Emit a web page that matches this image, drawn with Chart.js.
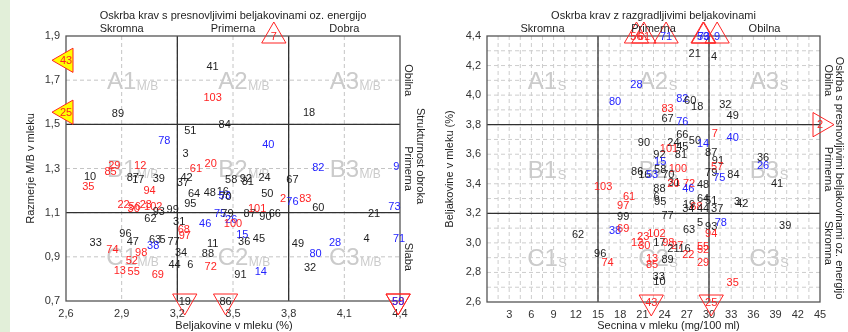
<!DOCTYPE html>
<html><head><meta charset="utf-8">
<script src="https://cdn.jsdelivr.net/npm/chart.js@4/dist/chart.umd.min.js"></script>
<style>
html,body{margin:0;padding:0;background:#fff;width:848px;height:332px;overflow:hidden}
#strip{position:absolute;left:0;top:0;width:10px;height:332px;background:#e2efd9}
#c1{position:absolute;left:0;top:0}
#c2{position:absolute;left:430px;top:0}
</style></head><body>
<div id="strip"></div>
<canvas id="c1" width="430" height="332"></canvas>
<canvas id="c2" width="418" height="332"></canvas>
<script>
// ---------- LEFT CHART DATA ----------
const leftIds = [41,103,89,18,51,84,78,40,3,29,12,85,61,20,10,35,87,17,39,42,37,58,92,81,24,67,82,9,94,64,48,16,53,70,50,95,2,76,83,60,73,22,56,30,23,102,21,93,99,62,31,46,75,79,26,100,87,90,66,101,68,97,96,33,47,63,5,77,11,15,36,45,49,28,4,71,74,98,38,34,88,80,52,13,55,69,44,6,72,91,14,32];
const leftProtein = [3.39,3.39,2.88,3.91,3.27,3.455,3.13,3.69,3.245,2.86,3.00,2.84,3.30,3.38,2.73,2.72,2.96,2.99,3.10,3.25,3.23,3.49,3.57,3.58,3.67,3.82,3.96,4.38,3.05,3.29,3.375,3.445,3.455,3.46,3.685,3.27,3.77,3.82,3.89,3.96,4.37,2.91,2.97,2.965,3.03,3.07,4.26,3.10,3.175,3.055,3.21,3.35,3.43,3.47,3.49,3.50,3.59,3.675,3.725,3.63,3.235,3.24,2.92,2.76,2.96,3.08,3.12,3.18,3.39,3.55,3.56,3.64,3.85,4.05,4.22,4.395,2.85,3.005,3.07,3.22,3.365,3.945,2.955,2.89,2.965,3.095,3.185,3.27,3.38,3.54,3.65,3.915];
const leftRatio = [1.76,1.62,1.55,1.555,1.47,1.50,1.425,1.41,1.37,1.315,1.315,1.285,1.30,1.325,1.265,1.22,1.26,1.25,1.255,1.26,1.235,1.25,1.255,1.24,1.26,1.25,1.305,1.31,1.20,1.185,1.19,1.195,1.18,1.175,1.185,1.14,1.165,1.15,1.165,1.125,1.13,1.135,1.13,1.118,1.135,1.13,1.095,1.105,1.115,1.075,1.06,1.05,1.095,1.095,1.07,1.052,1.095,1.085,1.095,1.12,1.025,0.995,1.005,0.965,0.97,0.98,0.98,0.97,0.96,1.00,0.97,0.985,0.96,0.965,0.985,0.985,0.935,0.92,0.95,0.92,0.915,0.915,0.885,0.84,0.835,0.82,0.865,0.865,0.855,0.82,0.835,0.85];
const leftColour = ['k','r','k','k','k','k','b','b','k','r','r','r','r','r','k','r','k','k','k','k','k','k','k','k','k','k','b','b','r','k','k','k','b','k','k','k','r','b','r','k','b','r','r','r','r','r','k','k','k','k','k','b','b','k','b','r','k','k','k','r','r','r','k','k','k','k','k','k','k','b','k','k','k','b','k','b','r','r','b','k','k','b','r','r','r','r','k','k','r','k','b','k'];
// points outside the axis range, shown on the border
const leftOutIds = [43,25,7,19,86,58,59];
const leftOutProtein = [2.6,2.6,3.72,3.24,3.46,4.39,4.39];
const leftOutRatio = [1.79,1.555,1.9,0.7,0.7,0.7,0.7];
const leftOutDir = ['left','left','up','down','down','down','down'];
const leftOutColour = ['r','r','r','k','k','r','b'];
const leftXTicks = [2.6,2.9,3.2,3.5,3.8,4.1,4.4];
const leftYTicks = [0.7,0.9,1.1,1.3,1.5,1.7,1.9];
const leftHeaders = ['Skromna','Primerna','Dobra'];
const leftSide = ['Obilna','Primerna','Slaba'];

// ---------- RIGHT CHART DATA ----------
const rightIds = [21,4,28,80,82,60,18,83,32,49,67,76,66,7,90,24,50,40,14,101,45,92,81,87,15,91,57,36,26,58,100,86,16,53,70,79,75,84,41,103,88,31,20,72,46,48,61,97,6,95,64,51,3,42,19,68,34,44,37,99,77,5,93,78,63,39,62,38,69,23,102,94,12,30,17,98,27,21,16,55,52,96,74,13,85,89,22,29,33,10,35];
const rightUrea = [28.07,30.7,20.2,17.3,26.4,27.45,28.4,24.4,32.2,33.2,24.4,26.4,26.4,30.8,21.2,25.2,28.1,33.2,29.2,24.6,26.4,23.3,26.2,30.3,23.4,31.2,31.1,37.3,37.3,23.4,25.8,20.3,21.25,22.3,24.5,30.3,31.4,33.3,39.2,15.7,23.3,25.3,25.2,27.3,27.2,29.2,19.2,18.4,22.9,23.4,29.2,30.3,33.8,34.5,27.3,28.3,27.2,29.2,31.1,18.4,24.4,28.8,30.3,31.6,27.3,40.3,12.3,17.3,18.4,21.1,22.9,30.3,20.3,21.25,23.3,24.5,25.7,25.2,26.7,29.2,29.2,15.3,16.3,22.3,22.3,24.4,27.2,29.2,23.2,23.3,33.2];
const rightProtein = [4.28,4.26,4.07,3.955,3.98,3.965,3.925,3.91,3.94,3.865,3.84,3.825,3.735,3.74,3.68,3.68,3.69,3.71,3.67,3.64,3.655,3.595,3.595,3.61,3.55,3.555,3.515,3.575,3.525,3.50,3.505,3.48,3.465,3.465,3.465,3.475,3.445,3.465,3.405,3.385,3.37,3.41,3.40,3.40,3.365,3.395,3.315,3.255,3.315,3.28,3.30,3.29,3.28,3.27,3.26,3.245,3.23,3.23,3.235,3.18,3.185,3.14,3.11,3.14,3.09,3.115,3.06,3.085,3.10,3.045,3.065,3.065,3.005,2.985,3.005,3.005,2.985,2.965,2.965,2.975,2.955,2.93,2.865,2.895,2.855,2.885,2.92,2.87,2.775,2.74,2.735];
const rightColour = ['k','k','b','b','b','k','k','r','k','k','k','b','k','r','k','k','k','b','b','r','k','k','k','k','b','k','r','k','b','k','r','k','k','b','k','k','b','k','k','r','k','k','r','r','b','k','r','r','k','k','k','k','k','k','k','r','k','k','k','k','k','k','k','b','k','k','k','b','r','r','r','r','r','r','k','r','r','k','k','r','r','k','r','r','r','k','r','r','k','k','r'];
const rightOutIds = [56,61,71,59,73,9,43,25,2];
const rightOutUrea = [20.2,21.2,24.2,29.2,29.3,31.1,22.2,30.3,45];
const rightOutProtein = [4.4,4.4,4.4,4.4,4.4,4.4,2.6,2.6,3.8];
const rightOutDir = ['up','up','up','up','up','up','down','down','right'];
const rightOutColour = ['r','r','b','b','b','b','r','r','r'];
const rightXTicks = [3,6,9,12,15,18,21,24,27,30,33,36,39,42,45];
const rightYTicks = [2.6,2.8,3.0,3.2,3.4,3.6,3.8,4.0,4.2,4.4];
const rightHeaders = ['Skromna','Primerna','Obilna'];
const rightSide = ['Obilna','Primerna','Skromna'];

// ---------- DRAWING ----------
const FAM = "'Liberation Sans', Arial, Helvetica, sans-serif";
const COL = {k:'#1e1e1e', r:'#ff2323', b:'#2323ff'};
const ROT = {up:0, right:90, down:180, left:-90};
Chart.defaults.font.family = FAM;
Chart.defaults.font.size = 11;

function fmt(v, d){ return Number(v).toFixed(d).replace('.', ','); }

function decor(cfg){
  return {
    id: 'decor',
    beforeDatasetsDraw(chart){
      const {ctx, chartArea:a, scales:{x, y}} = chart;
      ctx.save();
      const vline = (v, w, c, dash) => { const p = x.getPixelForValue(v);
        ctx.beginPath(); ctx.setLineDash(dash); ctx.strokeStyle=c; ctx.lineWidth=w; ctx.moveTo(p,a.top); ctx.lineTo(p,a.bottom); ctx.stroke(); };
      const hline = (v, w, c, dash) => { const p = y.getPixelForValue(v);
        ctx.beginPath(); ctx.setLineDash(dash); ctx.strokeStyle=c; ctx.lineWidth=w; ctx.moveTo(a.left,p); ctx.lineTo(a.right,p); ctx.stroke(); };
      for (let v = cfg.xMin + cfg.gridX; v < cfg.xMax - 1e-9; v += cfg.gridX) vline(v, 1, cfg.gridColour, [4,3]);
      for (let v = cfg.yMin + cfg.gridY; v < cfg.yMax - 1e-9; v += cfg.gridY) hline(v, 1, cfg.gridColour, [4,3]);
      // zone labels
      const rows = ['A','B','C'];
      cfg.zoneY.forEach((zy, r) => cfg.zoneX.forEach((zx, c) => {
        const px = x.getPixelForValue(zx), py = y.getPixelForValue(zy);
        const big = rows[r] + (c + 1);
        ctx.fillStyle = '#cbcbcb';
        ctx.font = '24px ' + FAM; ctx.textAlign = 'center'; ctx.textBaseline = 'alphabetic';
        ctx.fillText(big, px, py + 8.5);
        const w = ctx.measureText(big).width;
        ctx.font = cfg.subSize + 'px ' + FAM; ctx.textAlign = 'left';
        ctx.fillText(cfg.zoneSub, px + w/2 + 0.5, py + 9.5);
      }));
      cfg.solidX.forEach(v => vline(v, 1.3, '#303030', []));
      cfg.solidY.forEach(v => hline(v, 1.3, '#303030', []));
      ctx.setLineDash([]); ctx.strokeStyle = '#555'; ctx.lineWidth = 1.3;
      ctx.strokeRect(a.left, a.top, a.right - a.left, a.bottom - a.top);
      ctx.restore();
    },
    afterDatasetsDraw(chart){
      const ctx = chart.ctx;
      ctx.save();
      ctx.font = '11px ' + FAM; ctx.textAlign = 'center'; ctx.textBaseline = 'middle';
      chart.data.datasets.forEach((ds, di) => {
        const meta = chart.getDatasetMeta(di);
        meta.data.forEach((el, i) => {
          ctx.fillStyle = COL[ds.labelColours[i]];
          ctx.fillText(String(ds.pointLabels[i]), el.x, el.y + 0.5);
        });
      });
      ctx.restore();
    },
    afterDraw(chart){
      const {ctx, chartArea:a, scales:{x, y}} = chart;
      ctx.save();
      ctx.fillStyle = '#1e1e1e'; ctx.font = '11px ' + FAM;
      ctx.textAlign = 'center'; ctx.textBaseline = 'middle';
      const cx = (a.left + a.right) / 2;
      ctx.fillText(cfg.title, cx, 16);
      cfg.headers.forEach((h, i) => ctx.fillText(h, x.getPixelForValue(cfg.zoneX[i]), 28.5));
      ctx.fillText(cfg.xTitle, cx + cfg.xTitleShift, 326);
      // y title
      ctx.save(); ctx.translate(cfg.yTitleX, (a.top + a.bottom) / 2); ctx.rotate(-Math.PI/2);
      ctx.fillText(cfg.yTitle, 0, 0); ctx.restore();
      // right side labels
      cfg.side.forEach((s, i) => {
        ctx.save(); ctx.translate(a.right + 8, y.getPixelForValue(cfg.sideY[i])); ctx.rotate(Math.PI/2);
        ctx.fillText(s, 0, 0); ctx.restore();
      });
      ctx.save(); ctx.translate(a.right + cfg.sideTitleDx, cfg.sideTitleY); ctx.rotate(Math.PI/2);
      ctx.fillText(cfg.sideTitle, 0, 0); ctx.restore();
      ctx.restore();
    }
  };
}

function makeChart(id, cfg){
  const inData = cfg.xs.map((v, i) => ({x: v, y: cfg.ys[i]}));
  const outData = cfg.outXs.map((v, i) => ({x: v, y: cfg.outYs[i]}));
  return new Chart(document.getElementById(id), {
    type: 'scatter',
    data: {datasets: [
      {data: outData, pointStyle: 'triangle', pointRadius: 14,
       pointRotation: cfg.outDir.map(d => ROT[d]),
       pointBackgroundColor: cfg.outDir.map(d => d === 'left' ? '#ffff00' : 'rgba(255,255,255,0)'),
       pointBorderColor: '#ff2323', pointBorderWidth: 1, clip: false,
       pointLabels: cfg.outIds, labelColours: cfg.outCols},
      {data: inData, pointRadius: 0, clip: false, pointLabels: cfg.ids, labelColours: cfg.cols}
    ]},
    options: {
      responsive: false, animation: false, events: [],
      layout: {padding: {left: 0, right: cfg.padRight, top: 36, bottom: 0}},
      plugins: {legend: {display: false}, tooltip: {enabled: false}},
      scales: {
        x: {type: 'linear', min: cfg.xMin, max: cfg.xMax,
            grid: {display: false, drawTicks: false}, border: {display: false},
            afterFit: s => { s.height = cfg.xAxisH; },
            afterBuildTicks: s => { s.ticks = cfg.xTicks.map(v => ({value: v})); },
            ticks: {padding: 6, color: '#333', maxRotation: 0, autoSkip: false,
                    callback: v => fmt(v, cfg.xDec)}},
        y: {type: 'linear', min: cfg.yMin, max: cfg.yMax,
            grid: {display: false, drawTicks: false}, border: {display: false},
            afterFit: s => { s.width = cfg.yAxisW; },
            afterBuildTicks: s => { s.ticks = cfg.yTicks.map(v => ({value: v})); },
            ticks: {padding: 6, color: '#333', autoSkip: false,
                    callback: v => fmt(v, 1)}}
      }
    },
    plugins: [decor(cfg)]
  });
}

makeChart('c1', {
  ids: leftIds, xs: leftProtein, ys: leftRatio, cols: leftColour,
  outIds: leftOutIds, outXs: leftOutProtein, outYs: leftOutRatio, outDir: leftOutDir, outCols: leftOutColour,
  xMin: 2.6, xMax: 4.4, yMin: 0.7, yMax: 1.9, xTicks: leftXTicks, yTicks: leftYTicks, xDec: 1,
  gridX: 0.3, gridY: 0.2, gridColour: '#c4c4c4',
  solidX: [3.2, 3.8], solidY: [1.1, 1.5],
  zoneX: [2.9, 3.5, 4.1], zoneY: [1.7, 1.3, 0.9], zoneSub: 'M/B', subSize: 12,
  padRight: 30, yAxisW: 66, xAxisH: 31,
  title: 'Oskrba krav s presnovljivimi beljakovinami oz. energijo', headers: leftHeaders,
  xTitle: 'Beljakovine v mleku (%)', xTitleShift: 1, yTitle: 'Razmerje M/B v mleku', yTitleX: 31,
  side: leftSide, sideY: [1.7, 1.3, 0.9], sideTitle: 'Strukturnost obroka', sideTitleDx: 20, sideTitleY: 156
});
// the lighter grid of the right chart is not at the thick tick lines
makeChart('c2', {
  ids: rightIds, xs: rightUrea, ys: rightProtein, cols: rightColour,
  outIds: rightOutIds, outXs: rightOutUrea, outYs: rightOutProtein, outDir: rightOutDir, outCols: rightOutColour,
  xMin: 0, xMax: 45, yMin: 2.6, yMax: 4.4, xTicks: rightXTicks, yTicks: rightYTicks, xDec: 0,
  gridX: 1.5, gridY: 0.1, gridColour: '#cdcdcd',
  solidX: [15, 30], solidY: [3.2, 3.8],
  zoneX: [7.5, 22.5, 37.5], zoneY: [4.1, 3.5, 2.9], zoneSub: 'S', subSize: 13,
  padRight: 28, yAxisW: 57, xAxisH: 30,
  title: 'Oskrba krav z razgradljivimi beljakovinami', headers: rightHeaders,
  xTitle: 'Secnina v mleku (mg/100 ml)', xTitleShift: 15, yTitle: 'Beljakovine v mleku (%)', yTitleX: 20,
  side: rightSide, sideY: [4.1, 3.5, 3.0], sideTitle: 'Oskrba s presnovljivimi beljakovinami oz. energijo', sideTitleDx: 19, sideTitleY: 178
});
</script>
</body></html>
